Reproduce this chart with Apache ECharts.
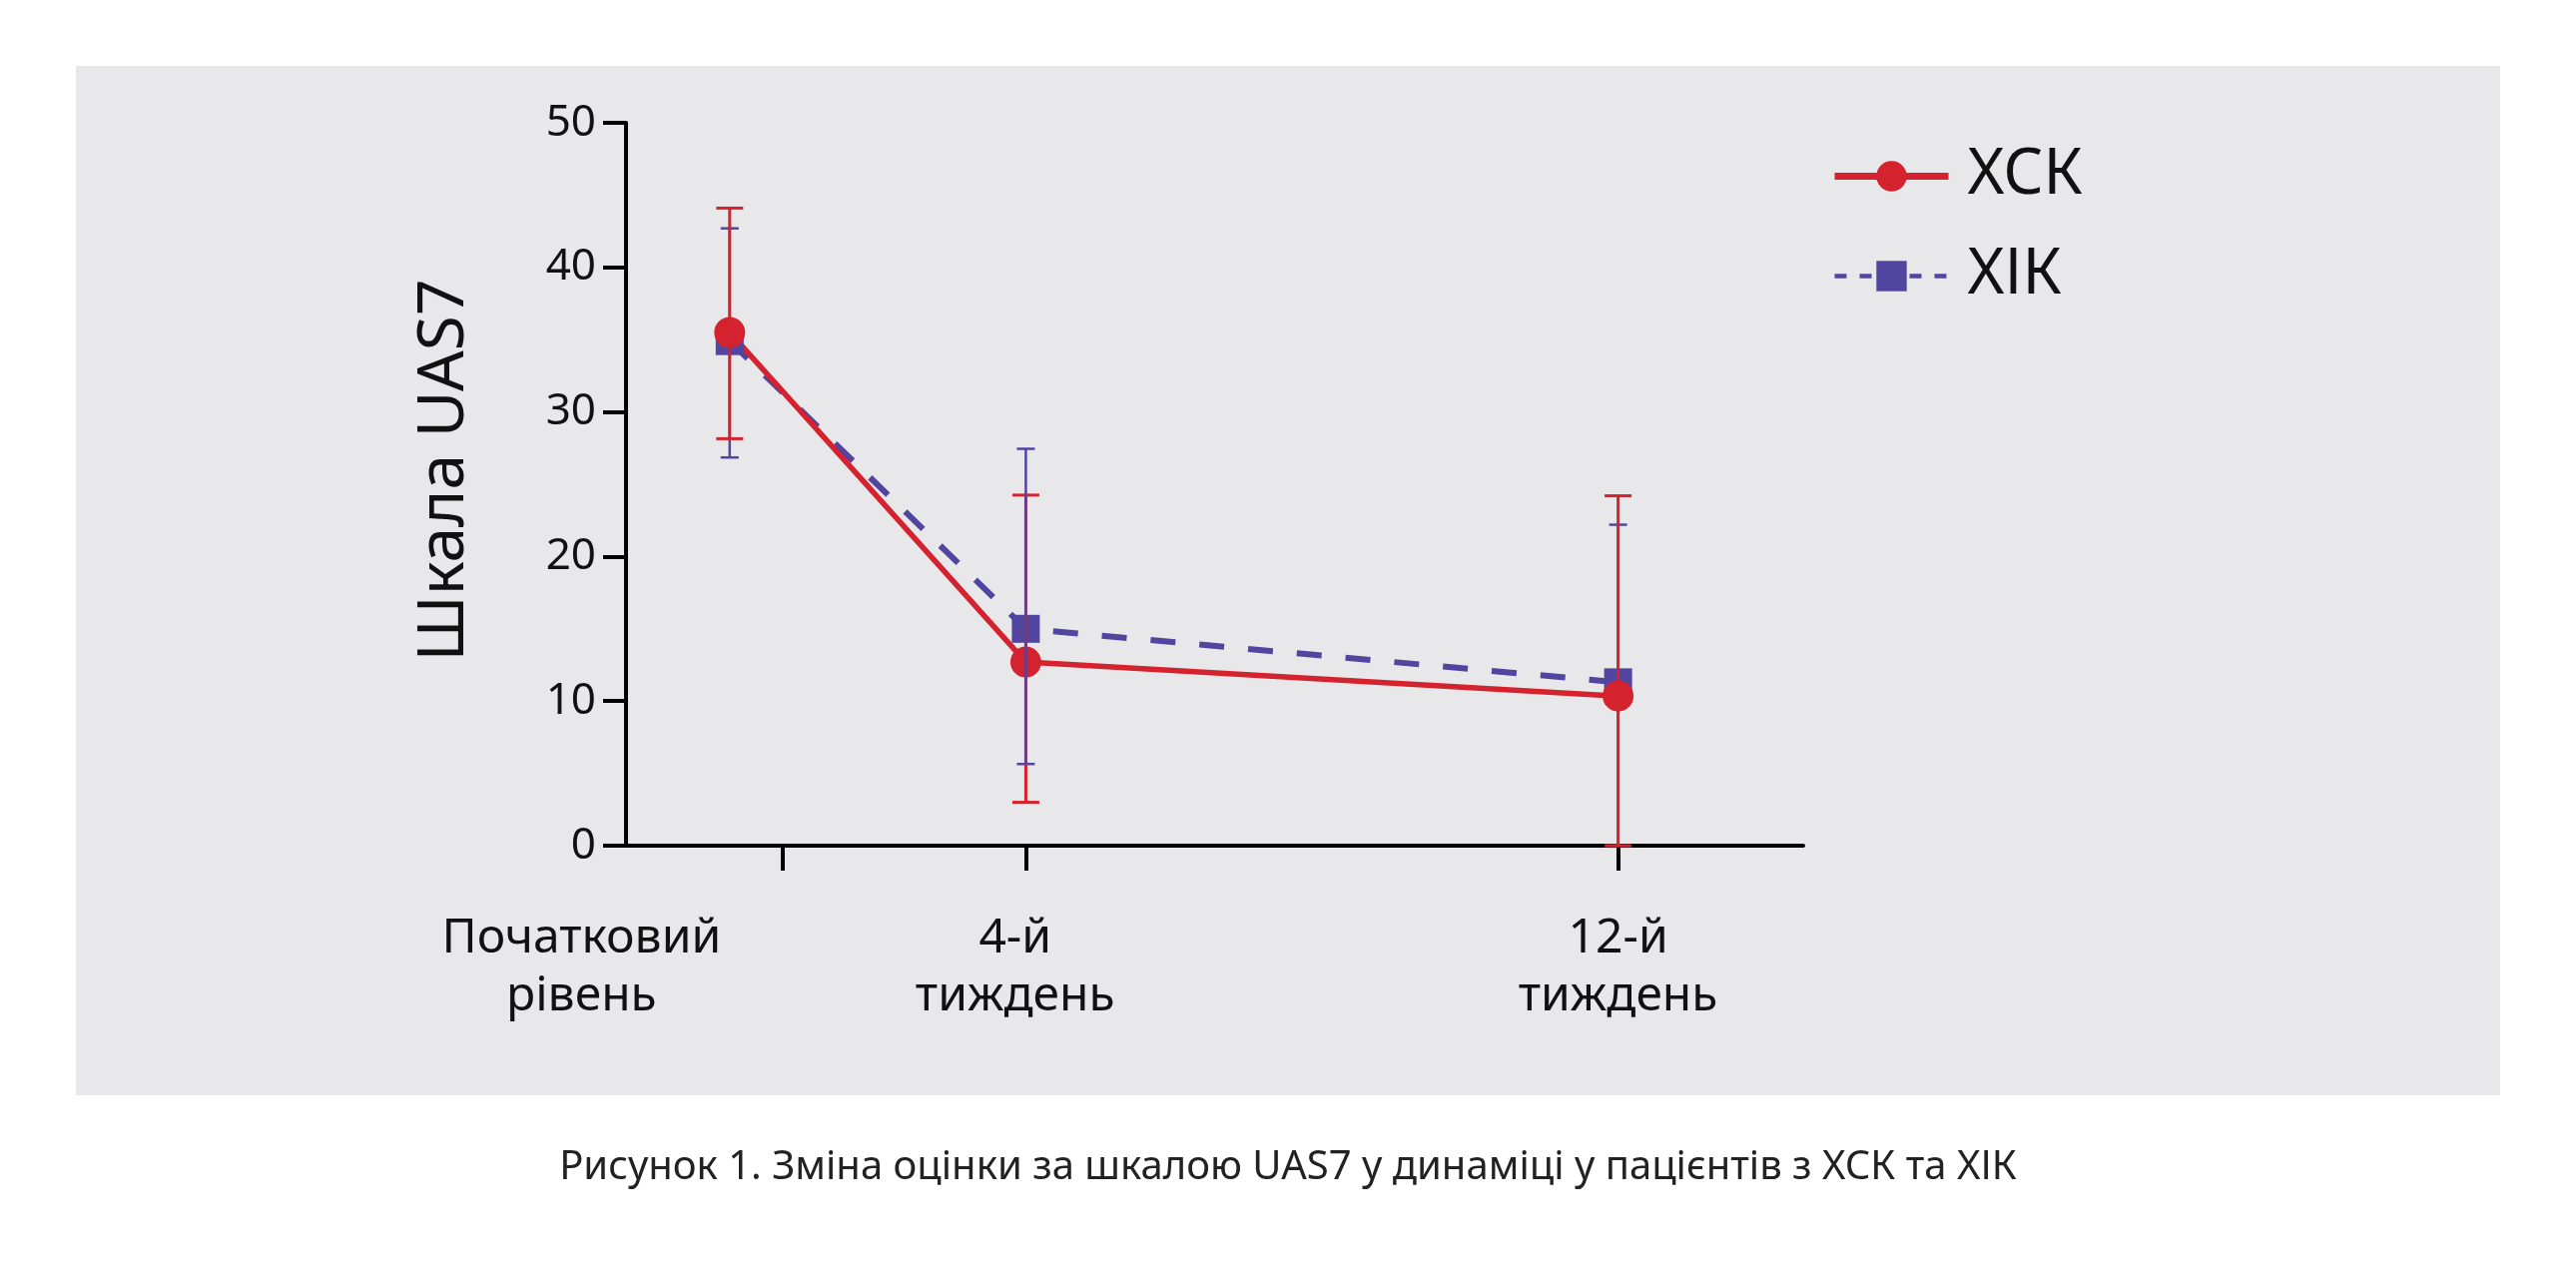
<!DOCTYPE html>
<html>
<head>
<meta charset="utf-8">
<script src="https://cdn.jsdelivr.net/npm/echarts@6/dist/echarts.min.js"></script>
<style>
  html, body { margin: 0; padding: 0; background: #ffffff; }
  #chart { width: 2580px; height: 1275px; }
</style>
</head>
<body>
<div id="chart"></div>
<script>
// тижні спостереження (вісь X рахується в днях)
const weeks = [0, 4, 12];
const days = weeks.map((w) => w * 7);

// ХСК: середнє та межі похибки
const xskMean = [35.5, 12.7, 10.35];
const xskLow = [28.15, 3.0, 0];
const xskHigh = [44.1, 24.25, 24.2];

// ХІК: середнє та межі похибки
const xikMean = [34.9, 15.0, 11.3];
const xikLow = [26.85, 5.65, 0];
const xikHigh = [42.7, 27.45, 22.2];

// підписи та поділки осі X (у днях)
const xLabelPos = [-14, 27, 84];
const xLabelText = ["Початковий\nрівень", "4-й\nтиждень", "12-й\nтиждень"];
const xTickPos = [5, 28, 84];

const yTicks = [0, 10, 20, 30, 40, 50];

const RED = "#d4232e";
const BLUE = "#5145a0";
const FONT = "Noto Sans";

const chart = echarts.init(document.getElementById("chart"));

// вертикальні смужки похибки з «шапочками»
function errorBars(name, color, capW, lw, low, high, topIndex) {
  return {
    type: "custom",
    name: name,
    xAxisIndex: 0,
    yAxisIndex: 0,
    z: 3,
    silent: true,
    data: days.map((d, i) => [d, low[i], high[i]]),
    renderItem(params, api) {
      const x = api.value(0);
      const lo = api.coord([x, api.value(1)]);
      const hi = api.coord([x, api.value(2)]);
      const h = capW / 2;
      const z2 = params.dataIndex === topIndex ? 20 : (color === RED ? 10 : 5);
      const style = { stroke: color, lineWidth: lw };
      return {
        type: "group",
        children: [
          { type: "line", z2, shape: { x1: lo[0], y1: lo[1], x2: hi[0], y2: hi[1] }, style },
          { type: "line", z2, shape: { x1: lo[0] - h, y1: lo[1], x2: lo[0] + h, y2: lo[1] }, style },
          { type: "line", z2, shape: { x1: hi[0] - h, y1: hi[1], x2: hi[0] + h, y2: hi[1] }, style }
        ]
      };
    }
  };
}

chart.setOption({
  backgroundColor: "#ffffff",
  animation: false,
  textStyle: { fontFamily: FONT },
  graphic: [
    {
      type: "rect",
      z: -10,
      shape: { x: 76, y: 66, width: 2428, height: 1031 },
      style: { fill: "#e8e8ea" }
    }
  ],
  title: {
    text: "Рисунок 1. Зміна оцінки за шкалою UAS7 у динаміці у пацієнтів з ХСК та ХІК",
    left: "center",
    top: 1145,
    textStyle: { fontFamily: FONT, fontSize: 40, fontWeight: "normal", color: "#222" }
  },
  legend: {
    orient: "vertical",
    left: 1829,
    top: 140,
    itemWidth: 114,
    itemHeight: 38,
    itemGap: 37,
    textStyle: {
      fontFamily: FONT,
      fontSize: 63,
      lineHeight: 62,
      color: "#111",
      padding: [0, 0, 0, 14]
    },
    data: [
      { name: "ХСК", lineStyle: { width: 7, type: "solid" } },
      { name: "ХІК", lineStyle: { width: 4.5, type: [12, 13] } }
    ]
  },
  grid: [
    { left: 627, top: 123, width: 1179, height: 724 },
    { left: 420, top: 123, width: 1386, height: 724 }
  ],
  xAxis: [
    {
      type: "value",
      gridIndex: 0,
      min: -9.8,
      max: 101.5,
      axisLine: { show: true, onZero: false, lineStyle: { color: "#000", width: 4 } },
      axisTick: {
        show: true,
        customValues: xTickPos,
        length: 25,
        lineStyle: { color: "#000", width: 4 }
      },
      axisLabel: { show: false },
      splitLine: { show: false }
    },
    {
      type: "value",
      gridIndex: 1,
      min: -29.33,
      max: 101.5,
      axisLine: { show: false },
      axisTick: { show: false },
      splitLine: { show: false },
      axisLabel: {
        show: true,
        customValues: xLabelPos,
        margin: 64,
        fontFamily: FONT,
        fontSize: 48,
        lineHeight: 58,
        color: "#111",
        formatter: (v) => {
          const i = xLabelPos.findIndex((p) => Math.abs(p - v) < 1e-6);
          return i >= 0 ? xLabelText[i] : "";
        }
      }
    }
  ],
  yAxis: [
    {
      type: "value",
      gridIndex: 0,
      min: yTicks[0],
      max: yTicks[yTicks.length - 1],
      interval: 10,
      name: "Шкала UAS7",
      nameLocation: "middle",
      nameGap: 149,
      nameTextStyle: { fontFamily: FONT, fontSize: 64, color: "#111", padding: [0, 0, 0, 28] },
      axisLine: { show: true, onZero: false, lineStyle: { color: "#000", width: 4 } },
      axisTick: { show: true, length: 23, lineStyle: { color: "#000", width: 4 } },
      axisLabel: { margin: 30, fontFamily: FONT, fontSize: 44, color: "#111" },
      splitLine: { show: false }
    },
    {
      type: "value",
      gridIndex: 1,
      min: 0,
      max: 50,
      show: false
    }
  ],
  series: [
    {
      name: "ХІК",
      type: "line",
      xAxisIndex: 0,
      yAxisIndex: 0,
      z: 2,
      data: days.map((d, i) => [d, xikMean[i]]),
      symbol: "rect",
      symbolSize: 28,
      itemStyle: { color: BLUE },
      lineStyle: { color: BLUE, width: 6, type: [25, 24] }
    },
    {
      name: "ХСК",
      type: "line",
      xAxisIndex: 0,
      yAxisIndex: 0,
      z: 2,
      data: days.map((d, i) => [d, xskMean[i]]),
      symbol: "circle",
      symbolSize: 31,
      itemStyle: { color: RED },
      lineStyle: { color: RED, width: 5.5 }
    },
    errorBars("ХІК SD", BLUE, 18, 2.5, xikLow, xikHigh, 1),
    errorBars("ХСК SD", RED, 27, 3, xskLow, xskHigh, -1)
  ]
});
</script>
</body>
</html>
